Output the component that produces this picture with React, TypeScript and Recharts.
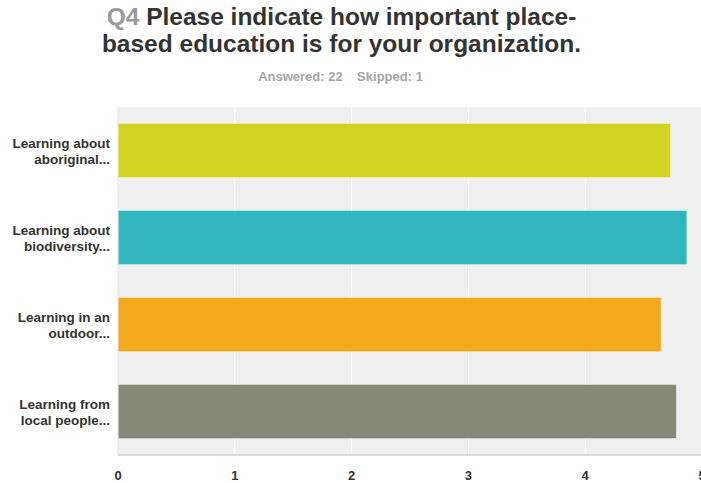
import { BarChart, Bar, XAxis, YAxis, CartesianGrid, Cell } from "recharts";

const categories = [
  ["Learning about", "aboriginal..."],
  ["Learning about", "biodiversity..."],
  ["Learning in an", "outdoor..."],
  ["Learning from", "local people..."],
];
const averages = [4.73, 4.87, 4.65, 4.78];
const xTicks = [0, 1, 2, 3, 4, 5];
const COLORS = ["#d0d321", "#2fb7bd", "#f2aa1c", "#868777"];

const data = categories.map((lines, i) => ({
  name: lines.join(" "),
  lines,
  value: averages[i],
}));

const FONT = "'Liberation Sans', Arial, Helvetica, sans-serif";

function CategoryTick(props: any) {
  const { x, y, payload, index } = props;
  const lines = categories[index] ?? [payload.value];
  return (
    <text
      x={x}
      y={y}
      textAnchor="end"
      fontSize={13.5}
      fontWeight="bold"
      fill="#333"
      fontFamily={FONT}
    >
      {lines.map((l: string, i: number) => (
        <tspan key={i} x={x} dy={i === 0 ? -3 : 16}>
          {l}
        </tspan>
      ))}
    </text>
  );
}

export default function App() {
  return (
    <div
      style={{
        position: "absolute",
        left: 0,
        top: 0,
        width: 701,
        height: 483,
        overflow: "hidden",
        background: "#fff",
        fontFamily: FONT,
      }}
    >
      <div
        style={{
          position: "absolute",
          left: 0,
          width: 683,
          top: 3,
          textAlign: "center",
          fontSize: 24.5,
          fontWeight: "bold",
          lineHeight: "27px",
          color: "#333",
        }}
      >
        <span style={{ color: "#9a9a9a" }}>Q4</span> Please indicate how important place-
        <br />
        based education is for your organization.
      </div>
      <div
        style={{
          position: "absolute",
          left: 0,
          width: 681,
          top: 69,
          textAlign: "center",
          fontSize: 13,
          fontWeight: "bold",
          color: "#a6a6a6",
          whiteSpace: "pre",
        }}
      >
        {"Answered: 22    Skipped: 1"}
      </div>
      <div style={{ position: "absolute", left: 0, top: 0 }}>
        <BarChart
          width={722}
          height={483}
          data={data}
          layout="vertical"
          margin={{ top: 107, right: 20, bottom: 0, left: 0 }}
          barCategoryGap="19%"
        >
          <CartesianGrid horizontal={false} stroke="#ffffff" fill="#efefef" />
          <XAxis
            type="number"
            domain={[0, 5]}
            ticks={xTicks}
            tickLine={false}
            axisLine={{ stroke: "#dcdcdc", strokeWidth: 2 }}
            tick={{ fontSize: 13, fontWeight: "bold", fill: "#333", fontFamily: FONT }}
            tickMargin={10}
            height={28}
          />
          <YAxis
            type="category"
            dataKey="name"
            width={118}
            tickLine={false}
            axisLine={{ stroke: "#e2e2e2" }}
            tick={<CategoryTick />}
            tickMargin={2}
          />
          <Bar dataKey="value" isAnimationActive={false} stroke="rgba(255,255,255,0.35)">
            {data.map((_d, i) => (
              <Cell key={`cell-${i}`} fill={COLORS[i]} />
            ))}
          </Bar>
        </BarChart>
      </div>
    </div>
  );
}
